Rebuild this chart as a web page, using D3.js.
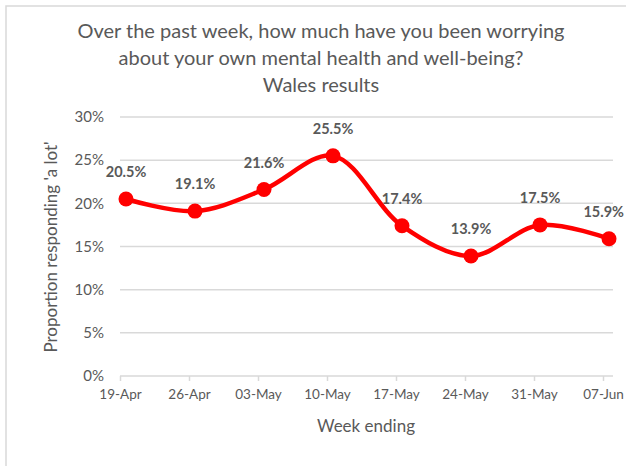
<!DOCTYPE html>
<html>
<head>
<meta charset="utf-8">
<script src="https://cdn.jsdelivr.net/npm/d3@7"></script>
<style>
  body { margin: 0; background: #fff; }
  text { font-family: Lato, "Open Sans", sans-serif; fill: #595959; }
</style>
</head>
<body>
<script>
// data
var weeks = ["19-Apr", "26-Apr", "03-May", "10-May", "17-May", "24-May", "31-May", "07-Jun"];
var values = [20.5, 19.1, 21.6, 25.5, 17.4, 13.9, 17.5, 15.9];
var yTicks = [0, 5, 10, 15, 20, 25, 30];
var titleLines = ["Over the past week, how much have you been worrying",
                  "about your own mental health and well-being?",
                  "Wales results"];

function drawChart(){
    var svg = d3.select("body")
                .append("svg")
                .attr("width", 626)
                .attr("height", 466);

    // chart frame (runs off the right/bottom edge)
    svg.append("rect")
        .attr("x", 6).attr("y", 6)
        .attr("width", 700).attr("height", 600)
        .attr("fill", "#fff")
        .attr("stroke", "#d9d9d9")
        .attr("stroke-width", 1.5);

    var title = svg.append("text")
        .attr("text-anchor", "middle")
        .style("font-size", "20px");
    titleLines.forEach(function(t, i){
        title.append("tspan")
            .attr("x", 321)
            .attr("y", 38 + i * 27)
            .text(t);
    });

    var xScale = d3.scalePoint()
                    .domain(weeks)
                    .range([126, 609]);

    var yScale = d3.scaleLinear()
                    .domain([0, 30])
                    .range([376, 117]);

    // gridlines
    svg.append("g")
        .selectAll("line")
        .data(yTicks.slice(1))
        .enter()
        .append("line")
        .attr("x1", 120).attr("x2", 613)
        .attr("y1", function(d){ return yScale(d); })
        .attr("y2", function(d){ return yScale(d); })
        .attr("stroke", "#d9d9d9")
        .attr("stroke-width", 1.5);

    // y axis labels
    var yAxis = svg.append("g")
        .attr("transform", "translate(104,0)")
        .call(d3.axisLeft(yScale).tickValues(yTicks).tickSize(0).tickPadding(0)
                .tickFormat(function(d){ return d + "%"; }));
    yAxis.select(".domain").remove();
    yAxis.selectAll("text").style("font-size", "15px").attr("fill", "#595959");

    // x axis (ticks sit a little left of the markers, as in the original)
    var xAxis = svg.append("g")
        .attr("transform", "translate(-6,376)")
        .call(d3.axisBottom(xScale).tickSize(5).tickPadding(8).tickSizeOuter(0));
    xAxis.select(".domain")
        .attr("d", "M126,0H619")
        .attr("stroke", "#d9d9d9")
        .attr("stroke-width", 1.5);
    xAxis.selectAll(".tick line").attr("stroke", "#d9d9d9").attr("stroke-width", 1.5);
    xAxis.selectAll("text").style("font-size", "13.5px").attr("fill", "#595959");

    // axis titles
    svg.append("text")
        .attr("transform", "translate(57,247) rotate(-90)")
        .attr("text-anchor", "middle")
        .style("font-size", "17px")
        .text("Proportion responding 'a lot'");

    svg.append("text")
        .attr("x", 366).attr("y", 432)
        .attr("text-anchor", "middle")
        .style("font-size", "17px")
        .text("Week ending");

    var line = d3.line()
        .x(function(d, i){ return xScale(weeks[i]); })
        .y(function(d){ return yScale(d); })
        .curve(d3.curveCatmullRom.alpha(0.5));

    svg.append("path")
        .datum(values)
        .attr("d", line)
        .attr("fill", "none")
        .attr("stroke", "#ff0000")
        .attr("stroke-width", 4.5);

    svg.selectAll(".dot")
        .data(values)
        .enter()
        .append("circle")
        .attr("class", "dot")
        .attr("cx", function(d, i){ return xScale(weeks[i]); })
        .attr("cy", function(d){ return yScale(d); })
        .attr("r", 7.5)
        .attr("fill", "#ff0000");

    var labels = svg.selectAll(".lbl")
        .data(values)
        .enter()
        .append("text")
        .attr("class", "lbl")
        .attr("x", function(d, i){ return xScale(weeks[i]); })
        .attr("y", function(d){ return yScale(d) - 22; })
        .attr("text-anchor", "middle")
        .style("font-size", "14.5px")
        .style("font-weight", "bold")
        .text(function(d){ return d.toFixed(1) + "%"; });

    // keep the last label inside the picture
    labels.each(function(){
        var w = this.getComputedTextLength();
        var x = +d3.select(this).attr("x");
        if (x + w / 2 > 624) d3.select(this).attr("x", 624 - w / 2);
    });
}

drawChart();
</script>
</body>
</html>
